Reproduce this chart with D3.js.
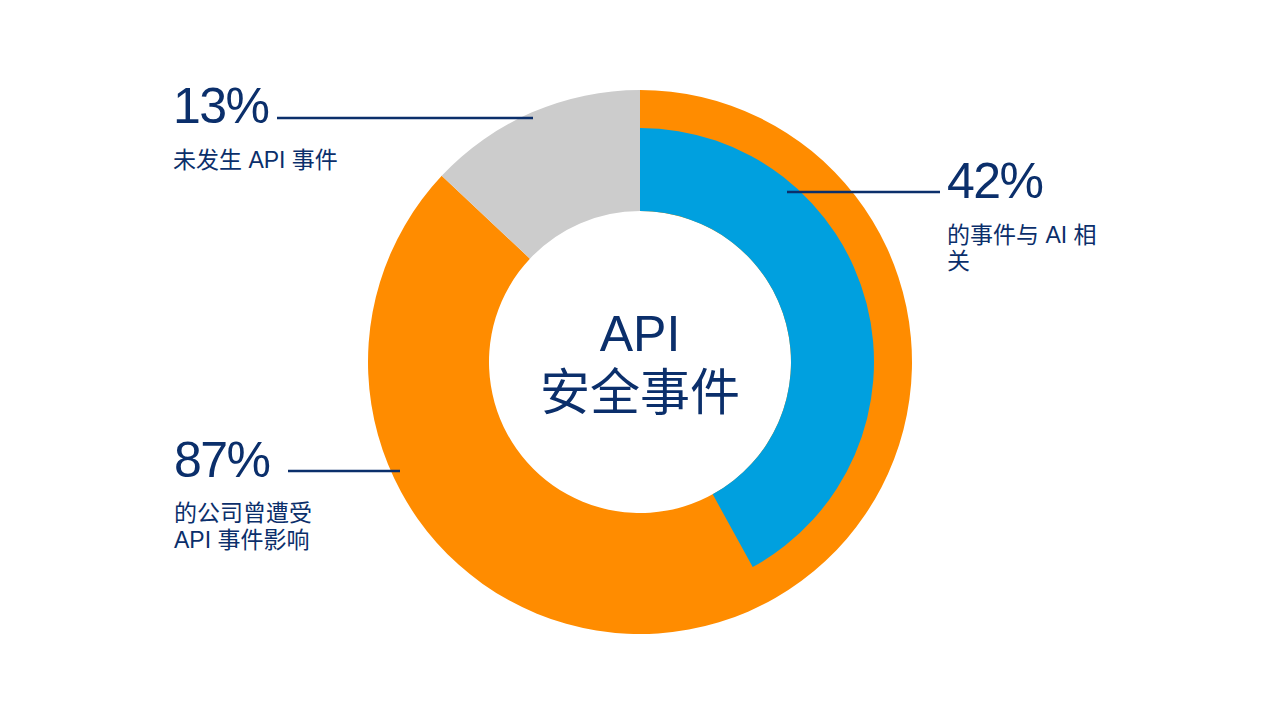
<!DOCTYPE html>
<html>
<head>
<meta charset="utf-8">
<script src="https://cdn.jsdelivr.net/npm/d3@7"></script>
<style>
  html, body { margin: 0; padding: 0; background: #fff; }
  text { font-family: "Liberation Sans", "Noto Sans CJK SC", sans-serif; fill: #0b2f6b; }
</style>
</head>
<body>
<main></main>
<script>
// outer ring: companies hit by API incidents vs not
let outerNames = ["affected", "notAffected"]
let outerValues = [87, 13]
let outerColors = ["#ff8c00", "#cccccc"]

// inner ring: share of incidents related to AI
let innerNames = ["ai", "rest"]
let innerValues = [42, 58]
let innerColors = ["#00a0df", "none"]

let bigLabels = ["13%", "42%", "87%"]
let smallLabels = [["未发生 API 事件"], ["的事件与 AI 相", "关"], ["的公司曾遭受", "API 事件影响"]]
let centerLines = ["API", "安全事件"]

let width = 1280, height = 720
let cx = 640, cy = 362
let rInner = 151, rOuter = 272, rBlue = 234

let svg = d3.select('main').append('svg')
    .attr('width', width)
    .attr('height', height)
    .style('display', 'block')

let pie = d3.pie().sort(null).startAngle(0).endAngle(2 * Math.PI)

let g = svg.append('g').attr('transform', `translate(${cx},${cy})`)

let outerArc = d3.arc().innerRadius(rInner).outerRadius(rOuter)
g.selectAll('path.outer')
    .data(pie(outerValues))
    .join('path')
    .attr('class', 'outer')
    .attr('d', outerArc)
    .attr('fill', (d, i) => outerColors[i])

let innerArc = d3.arc().innerRadius(rInner).outerRadius(rBlue)
g.selectAll('path.inner')
    .data(pie(innerValues))
    .join('path')
    .attr('class', 'inner')
    .attr('d', innerArc)
    .attr('fill', (d, i) => innerColors[i])

// center title
g.append('text')
    .attr('text-anchor', 'middle')
    .attr('y', -11)
    .style('font-size', '50px')
    .text(centerLines[0])
g.append('text')
    .attr('text-anchor', 'middle')
    .attr('y', 48)
    .style('font-size', '50px')
    .style('font-family', '"Noto Sans CJK SC", sans-serif')
    .text(centerLines[1])

// callouts
let callouts = [
    { x: 173, y: 123, line: [277, 533, 118], lh: 26, sy: 168 },
    { x: 947, y: 198, line: [787, 940, 192], lh: 26, sy: 243 },
    { x: 174, y: 477, line: [288, 400, 471], lh: 27, sy: 521 }
]

callouts.forEach((c, i) => {
    svg.append('line')
        .attr('x1', c.line[0]).attr('x2', c.line[1])
        .attr('y1', c.line[2]).attr('y2', c.line[2])
        .attr('stroke', '#0b2f6b')
        .attr('stroke-width', 2.5)

    svg.append('text')
        .attr('x', c.x)
        .attr('y', c.y)
        .style('font-size', '50px')
        .style('letter-spacing', '-1.5px')
        .text(bigLabels[i])

    smallLabels[i].forEach((s, j) => {
        svg.append('text')
            .attr('x', c.x)
            .attr('y', c.sy + j * c.lh)
            .style('font-size', '23px')
            .text(s)
    })
})
</script>
</body>
</html>
